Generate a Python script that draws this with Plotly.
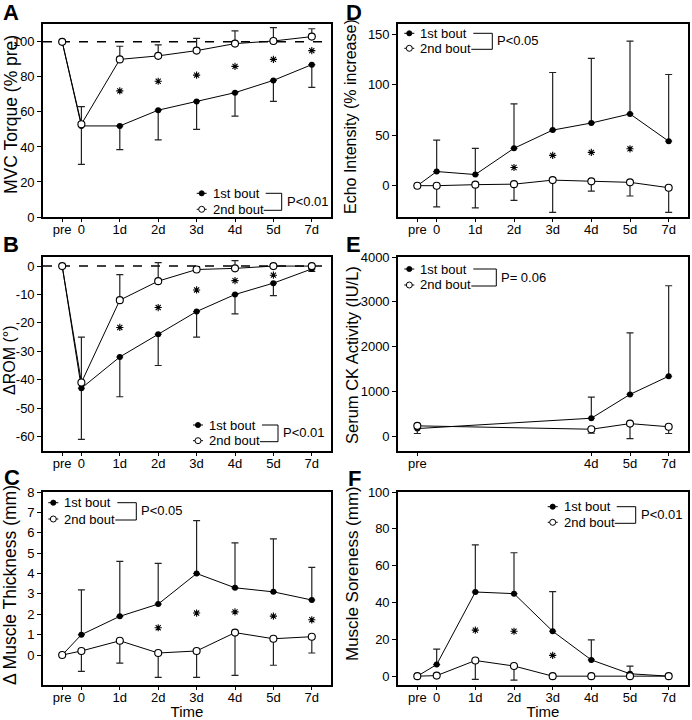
import plotly.graph_objects as go

W, H = 692, 720
FONT = "Liberation Sans, Arial, sans-serif"

# ---------------- data ----------------
time_labels = ["pre", "0", "1d", "2d", "3d", "4d", "5d", "7d"]
time_pos = [-0.5, 0, 1, 2, 3, 4, 5, 6]

# A: MVC torque (% pre)
mvc_first = [100, 52, 52, 61, 66, 71, 78, 87]
mvc_first_err = [0, 22, 13.5, 17, 16, 13.4, 12, 13]
mvc_second = [100, 53, 90, 92, 95, 99, 100.5, 103]
mvc_second_err = [0, 10, 7.5, 6.3, 7, 7.3, 7.6, 4.5]
mvc_star_t = ["1d", "2d", "3d", "4d", "5d", "7d"]
mvc_star_y = [72, 77.5, 81, 86, 90, 95]

# B: delta ROM (deg)
rom_first = [0, -43, -32, -24, -16, -10, -6, -1]
rom_first_err = [0, 18, 14, 11, 9, 6.8, 4.4, 0.9]
rom_second = [0, -41, -12, -5.3, -1.2, -0.8, 0, 0]
rom_second_err = [0, 16, 9, 6.5, 1, 2.7, 0, 0]
rom_star_t = ["1d", "2d", "3d", "4d", "5d"]
rom_star_y = [-21.6, -14.6, -8.4, -5.1, -3.2]

# C: delta muscle thickness (mm)
mt_first = [0, 1.0, 1.9, 2.5, 4.0, 3.3, 3.1, 2.7]
mt_first_err = [0, 2.2, 2.7, 2.0, 2.6, 2.2, 2.6, 1.6]
mt_second = [0, 0.2, 0.7, 0.1, 0.2, 1.1, 0.8, 0.9]
mt_second_err = [0, 1.0, 1.1, 1.2, 1.3, 2.1, 1.3, 0.8]
mt_star_t = ["2d", "3d", "4d", "5d", "7d"]
mt_star_y = [1.34, 2.06, 2.12, 1.91, 1.73]

# D: echo intensity (% increase)
echo_first = [0, 14, 11, 37, 55, 62, 71, 44]
echo_first_err = [0, 31, 26, 44, 57, 64, 72, 66]
echo_second = [0, 0, 1, 1.5, 5.5, 4.3, 3.3, -2]
echo_second_err = [0, 21, 23, 16, 32, 9.6, 13.5, 24.5]
echo_star_t = ["2d", "3d", "4d", "5d"]
echo_star_y = [18, 30, 33, 36.5]

# E: serum CK activity (IU/L)
ck_labels = ["pre", "4d", "5d", "7d"]
ck_first = [180, 410, 940, 1345]
ck_first_err = [0, 470, 1370, 2015]
ck_second = [240, 165, 290, 220]
ck_second_err = [170, 90, 335, 150]

# F: muscle soreness (mm)
sore_first = [0, 6.3, 45.7, 44.8, 24.4, 8.8, 1.3, 0]
sore_first_err = [0, 8.4, 25.6, 22.2, 21.5, 10.9, 4.1, 0]
sore_second = [0, 0.3, 8.5, 5.5, 0, 0, 0, 0]
sore_second_err = [0, 0, 10.2, 7.7, 0, 0, 0, 0]
sore_star_t = ["1d", "2d", "3d"]
sore_star_y = [25, 24.4, 11.3]

pos_of = dict(zip(time_labels, time_pos))

# ---------------- layout helpers ----------------
def px_x(p):
    return p / W

def px_y(p):
    return 1 - p / H

LEFT = (43, 331)
RIGHT = (398, 688)
ROW1 = (24, 217)
ROW2 = (257, 451)
ROW3 = (492, 685)

panels = {
    1: dict(xb=LEFT, yb=ROW1),   # A
    2: dict(xb=LEFT, yb=ROW2),   # B
    3: dict(xb=LEFT, yb=ROW3),   # C
    4: dict(xb=RIGHT, yb=ROW1),  # D
    5: dict(xb=RIGHT, yb=ROW2),  # E
    6: dict(xb=RIGHT, yb=ROW3),  # F
}

fig = go.Figure()

def add_series(i, labels, first, first_err, second, second_err,
               star_t=None, star_y=None, first_down=False):
    xs = [pos_of[t] for t in labels]
    n = len(xs)
    ax = "" if i == 1 else str(i)
    zeros = [0] * n
    e1 = dict(type="data", symmetric=False, color="#222", thickness=1.2, width=3.5,
              array=zeros if first_down else first_err,
              arrayminus=first_err if first_down else zeros)
    e2 = dict(type="data", symmetric=False, color="#222", thickness=1.2, width=3.5,
              array=second_err if first_down else zeros,
              arrayminus=zeros if first_down else second_err)
    fig.add_trace(go.Scatter(
        x=xs, y=first, xaxis="x" + ax, yaxis="y" + ax, mode="lines+markers",
        line=dict(color="black", width=1),
        marker=dict(symbol="circle", size=6, color="black"),
        error_y=e1, showlegend=False))
    fig.add_trace(go.Scatter(
        x=xs, y=second, xaxis="x" + ax, yaxis="y" + ax, mode="lines+markers",
        line=dict(color="black", width=1),
        marker=dict(symbol="circle", size=7, color="white", line=dict(color="black", width=1.1)),
        error_y=e2, showlegend=False))
    if star_t:
        fig.add_trace(go.Scatter(
            x=[pos_of[t] for t in star_t], y=star_y, xaxis="x" + ax, yaxis="y" + ax,
            mode="markers",
            marker=dict(symbol="asterisk-open", size=6, color="black",
                        line=dict(color="black", width=1.1)),
            showlegend=False))

add_series(1, time_labels, mvc_first, mvc_first_err, mvc_second, mvc_second_err,
           mvc_star_t, mvc_star_y, first_down=True)
add_series(2, time_labels, rom_first, rom_first_err, rom_second, rom_second_err,
           rom_star_t, rom_star_y, first_down=True)
add_series(3, time_labels, mt_first, mt_first_err, mt_second, mt_second_err, mt_star_t, mt_star_y)
add_series(4, time_labels, echo_first, echo_first_err, echo_second, echo_second_err,
           echo_star_t, echo_star_y)
add_series(5, ck_labels, ck_first, ck_first_err, ck_second, ck_second_err)
add_series(6, time_labels, sore_first, sore_first_err, sore_second, sore_second_err,
           sore_star_t, sore_star_y)

# ---------------- axes ----------------
axis_common = dict(showline=True, linewidth=1.6, linecolor="black", mirror=True,
                   ticks="outside", ticklen=4, tickwidth=1.3, tickcolor="black",
                   showgrid=False, zeroline=False, automargin=False,
                   tickfont=dict(size=13, color="black", family=FONT))

yranges = {1: [0, 110.2], 2: [-65.1, 3.2], 3: [-1.47, 8], 4: [-31, 160], 5: [-320, 4000], 6: [-4.8, 100]}
yticks = {1: [0, 20, 40, 60, 80, 100], 2: [0, -10, -20, -30, -40, -50, -60],
          3: [0, 1, 2, 3, 4, 5, 6, 7, 8], 4: [0, 50, 100, 150], 5: [0, 1000, 2000, 3000, 4000],
          6: [0, 20, 40, 60, 80, 100]}

layout = {}
for i, p in panels.items():
    ax = "" if i == 1 else str(i)
    xlab = ck_labels if i == 5 else time_labels
    xa = dict(axis_common, domain=[px_x(p["xb"][0]), px_x(p["xb"][1])],
              range=[-1.0, 6.5], anchor="y" + ax, ticklen=3, ticklabelstandoff=-3,
              tickvals=[pos_of[t] for t in xlab], ticktext=xlab)
    if i in (3, 6):
        xa["title"] = dict(text="Time", standoff=2,
                           font=dict(size=15, color="black", family=FONT))
    layout["xaxis" + ax] = xa
    layout["yaxis" + ax] = dict(axis_common, domain=[px_y(p["yb"][1]), px_y(p["yb"][0])],
                                range=yranges[i], anchor="x" + ax,
                                tickvals=yticks[i], ticktext=[str(v) for v in yticks[i]])

shapes = []
annotations = []

# dashed reference lines (A at 100, B at 0)
shapes.append(dict(type="line", xref="x domain", yref="y", x0=0, x1=1, y0=100, y1=100,
                   line=dict(color="black", width=1.5, dash="dash"), layer="below"))
shapes.append(dict(type="line", xref="x2 domain", yref="y2", x0=0, x1=1, y0=0, y1=0,
                   line=dict(color="black", width=1.5, dash="dash"), layer="below"))

def ann(x, y, text, size=13, xanchor="left", yanchor="middle", angle=0):
    annotations.append(dict(x=px_x(x), y=px_y(y), xref="paper", yref="paper", text=text,
                            showarrow=False, xanchor=xanchor, yanchor=yanchor, textangle=angle,
                            font=dict(size=size, color="black", family=FONT)))

def legend(sx, y1, y2, ptxt, vx=80, px=83):
    for y in (y1, y2):
        shapes.append(dict(type="line", xref="paper", yref="paper",
                           x0=px_x(sx - 5), x1=px_x(sx + 5), y0=px_y(y), y1=px_y(y),
                           line=dict(color="black", width=1)))
    shapes.append(dict(type="circle", xref="paper", yref="paper",
                       x0=px_x(sx - 2.6), x1=px_x(sx + 2.6), y0=px_y(y1 + 2.6), y1=px_y(y1 - 2.6),
                       fillcolor="black", line=dict(color="black", width=0.8)))
    shapes.append(dict(type="circle", xref="paper", yref="paper",
                       x0=px_x(sx - 3), x1=px_x(sx + 3), y0=px_y(y2 + 3), y1=px_y(y2 - 3),
                       fillcolor="white", line=dict(color="black", width=1)))
    ann(sx + 9, y1, "1st bout")
    ann(sx + 9, y2, "2nd bout")
    path = "M {a},{b} L {c},{b} L {c},{d} L {e},{d}".format(
        a=px_x(sx + 64), b=px_y(y1), c=px_x(sx + vx), d=px_y(y2 + 1), e=px_x(sx + 62))
    shapes.append(dict(type="path", xref="paper", yref="paper", path=path,
                       line=dict(color="black", width=1)))
    ann(sx + px, (y1 + y2) / 2, ptxt)

legend(201.7, 193.3, 209.3, "P&lt;0.01")
legend(198, 425, 440.7, "P&lt;0.01")
legend(53.3, 502.7, 519, "P&lt;0.05", vx=83, px=86)
legend(409.3, 33.3, 48.3, "P&lt;0.05", vx=83, px=86)
legend(409.3, 269, 285, "P= 0.06", vx=87, px=90)
legend(552.7, 506.7, 522.3, "P&lt;0.01", vx=83, px=86)

# axis titles
ann(11, 115, "MVC Torque (% pre)", size=17.5, xanchor="center", angle=-90)
ann(9, 360, "ΔROM (°)", size=16, xanchor="center", angle=-90)
ann(10, 585, "Δ Muscle Thickness (mm)", size=17.5, xanchor="center", angle=-90)
ann(351, 117, "Echo Intensity (% increase)", size=16, xanchor="center", angle=-90)
ann(352, 355, "Serum CK Activity (IU/L)", size=16.5, xanchor="center", angle=-90)
ann(352, 574, "Muscle Soreness (mm)", size=17, xanchor="center", angle=-90)

# panel letters
for x, y, t in [(11.5, 12.5, "A"), (11.5, 244, "B"), (12, 477, "C"),
                (353.5, 12.5, "D"), (353, 244, "E"), (354, 478, "F")]:
    annotations.append(dict(x=px_x(x), y=px_y(y), xref="paper", yref="paper",
                            text="<b>" + t + "</b>", showarrow=False, xanchor="center",
                            yanchor="middle", borderpad=0,
                            font=dict(size=22, color="black", family=FONT)))

fig.update_layout(**layout)
fig.update_layout(width=W, height=H, autosize=False,
                  margin=dict(l=0, r=0, t=0, b=0, pad=0, autoexpand=False),
                  paper_bgcolor="white", plot_bgcolor="white",
                  font=dict(family=FONT, color="black"),
                  shapes=shapes, annotations=annotations, showlegend=False)

fig.write_html("out.html", config={"displayModeBar": False},
               post_script="document.body.style.margin='0';document.body.style.overflow='hidden';")
